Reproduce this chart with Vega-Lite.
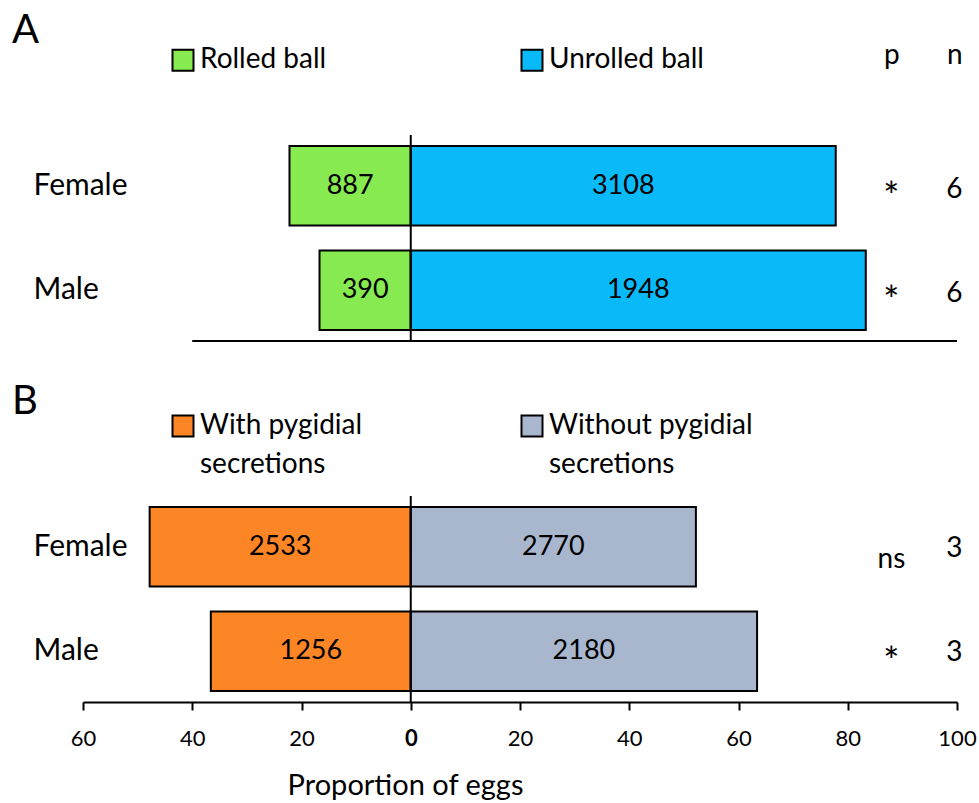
{
  "$schema": "https://vega.github.io/schema/vega-lite/v6.json",
  "padding": {"left": 12, "top": 11, "right": 10, "bottom": 0},
  "background": "white",
  "config": {
    "font": "Lato",
    "view": {"stroke": null},
    "title": {"fontWeight": "normal", "color": "black", "anchor": "start", "frame": "group", "font": "Lato"},
    "axis": {"labelColor": "black", "titleColor": "black", "labelFont": "Lato", "titleFont": "Lato", "grid": false},
    "legend": {"labelColor": "black", "labelFont": "Lato"},
    "text": {"font": "Lato", "color": "black"},
    "bar": {"stroke": "black", "strokeWidth": 2},
    "style": {"guide-label": {"lineHeight": 39}}
  },
  "bounds": "flush",
  "spacing": 155,
  "resolve": {"scale": {"color": "independent", "x": "independent", "y": "independent"}, "legend": {"color": "independent"}},
  "vconcat": [
    {
      "title": {"text": "A", "fontSize": 40, "dx": -71, "dy": 14},
      "width": 874,
      "height": 206,
      "data": {"values": [
        {"sex": "Female", "ball": "Rolled ball", "pct": -22.2, "eggs": 887},
        {"sex": "Female", "ball": "Unrolled ball", "pct": 77.8, "eggs": 3108},
        {"sex": "Male", "ball": "Rolled ball", "pct": -16.7, "eggs": 390},
        {"sex": "Male", "ball": "Unrolled ball", "pct": 83.3, "eggs": 1948}
      ]},
      "layer": [
        {
          "mark": {"type": "bar"},
          "encoding": {
            "x": {"field": "pct", "type": "quantitative", "title": null, "scale": {"domain": [-60, 100], "nice": false},
              "axis": {"orient": "top", "values": [88, 99.5], "labelExpr": "datum.value < 95 ? 'p' : 'n'", "domain": false, "ticks": false, "labelPadding": 66, "labelFontSize": 28, "title": null, "labelFlush": false, "labelOverlap": false}},
            "x2": {"datum": 0},
            "y": {"field": "sex", "type": "nominal", "sort": ["Female", "Male"], "title": null,
              "scale": {"paddingInner": 0.24, "paddingOuter": 0.105},
              "axis": {"domain": false, "ticks": false, "labelAlign": "left", "labelPadding": 50, "labelFontSize": 30, "labelBaseline": "middle"}},
            "color": {"field": "ball", "type": "nominal",
              "scale": {"domain": ["Rolled ball", "Unrolled ball"], "range": ["#86EA50", "#0ABAF8"]},
              "legend": {"orient": "none", "legendX": 86, "legendY": -89, "direction": "horizontal", "title": null,
                "symbolType": "square", "symbolSize": 441, "symbolStrokeColor": "black", "symbolStrokeWidth": 2,
                "labelFontSize": 28, "labelOffset": 3, "labelLimit": 400, "columnPadding": 190}}
          }
        },
        {
          "transform": [{"calculate": "datum.pct / 2", "as": "mid"}],
          "mark": {"type": "text", "fontSize": 27},
          "encoding": {
            "x": {"field": "mid", "type": "quantitative", "title": null},
            "y": {"field": "sex", "type": "nominal", "sort": ["Female", "Male"], "title": null},
            "text": {"field": "eggs", "type": "nominal"}
          }
        },
        {
          "data": {"values": [{}]},
          "mark": {"type": "rule", "strokeWidth": 2, "color": "black"},
          "encoding": {"x": {"datum": 0, "title": null}}
        },
        {
          "data": {"values": [{}]},
          "mark": {"type": "rule", "strokeWidth": 2, "color": "black", "yOffset": 11},
          "encoding": {"x": {"datum": -40, "title": null}, "x2": {"datum": 100},
            "y": {"datum": "Male", "type": "nominal", "bandPosition": 1, "title": null}}
        },
        {
          "data": {"values": [{"sex": "Female", "p": "*", "n": 6}, {"sex": "Male", "p": "*", "n": 6}]},
          "layer": [
            {
              "mark": {"type": "text", "fontSize": 38, "dy": 13},
              "encoding": {
                "x": {"datum": 88, "title": null},
                "y": {"field": "sex", "type": "nominal", "sort": ["Female", "Male"], "title": null},
                "text": {"field": "p", "type": "nominal"}
              }
            },
            {
              "mark": {"type": "text", "fontSize": 28, "dy": 4},
              "encoding": {
                "x": {"datum": 99.5, "title": null},
                "y": {"field": "sex", "type": "nominal", "sort": ["Female", "Male"], "title": null},
                "text": {"field": "n", "type": "nominal"}
              }
            }
          ]
        }
      ]
    },
    {
      "title": {"text": "B", "fontSize": 40, "dx": -71, "dy": 14},
      "width": 874,
      "height": 206,
      "data": {"values": [
        {"sex": "Female", "secretion": "With pygidial secretions", "pct": -47.8, "eggs": 2533},
        {"sex": "Female", "secretion": "Without pygidial secretions", "pct": 52.2, "eggs": 2770},
        {"sex": "Male", "secretion": "With pygidial secretions", "pct": -36.6, "eggs": 1256},
        {"sex": "Male", "secretion": "Without pygidial secretions", "pct": 63.4, "eggs": 2180}
      ]},
      "layer": [
        {
          "mark": {"type": "bar"},
          "encoding": {
            "x": {"field": "pct", "type": "quantitative", "title": "Proportion of eggs", "scale": {"domain": [-60, 100], "nice": false},
              "axis": {"orient": "bottom", "values": [-60, -40, -20, 0, 20, 40, 60, 80, 100], "labelExpr": "abs(datum.value)",
                "labelFontSize": 22, "labelFontWeight": {"condition": {"test": "datum.value == 0", "value": "bold"}, "value": "normal"},
                "tickSize": 8, "tickWidth": 2, "tickColor": "black", "domainColor": "black", "domainWidth": 2,
                "labelPadding": 18, "labelFlush": false, "labelOverlap": false,
                "title": "Proportion of eggs",
                "titleFontSize": 29, "titleFontWeight": "normal", "titleX": 322, "titlePadding": 22}},
            "x2": {"datum": 0},
            "y": {"field": "sex", "type": "nominal", "sort": ["Female", "Male"], "title": null,
              "scale": {"paddingInner": 0.24, "paddingOuter": 0.105},
              "axis": {"domain": false, "ticks": false, "labelAlign": "left", "labelPadding": 50, "labelFontSize": 30, "labelBaseline": "middle"}},
            "color": {"field": "secretion", "type": "nominal",
              "scale": {"domain": ["With pygidial secretions", "Without pygidial secretions"], "range": ["#FC8526", "#A8B7CE"]},
              "legend": {"orient": "none", "legendX": 86, "legendY": -84, "direction": "horizontal", "title": null,
                "labelExpr": "datum.label == 'With pygidial secretions' ? ['With pygidial', 'secretions'] : ['Without pygidial', 'secretions']",
                "symbolType": "square", "symbolSize": 441, "symbolStrokeColor": "black", "symbolStrokeWidth": 2,
                "labelFontSize": 28, "labelOffset": 3, "labelLimit": 400, "columnPadding": 154}}
          }
        },
        {
          "transform": [{"calculate": "datum.pct / 2", "as": "mid"}],
          "mark": {"type": "text", "fontSize": 27},
          "encoding": {
            "x": {"field": "mid", "type": "quantitative", "title": "Proportion of eggs"},
            "y": {"field": "sex", "type": "nominal", "sort": ["Female", "Male"], "title": null},
            "text": {"field": "eggs", "type": "nominal"}
          }
        },
        {
          "data": {"values": [{}]},
          "mark": {"type": "rule", "strokeWidth": 2, "color": "black"},
          "encoding": {"x": {"datum": 0, "title": "Proportion of eggs"}}
        },
        {
          "data": {"values": [{"sex": "Female", "p": "ns", "n": 3}, {"sex": "Male", "p": "*", "n": 3}]},
          "layer": [
            {
              "mark": {"type": "text", "dy": 13},
              "encoding": {
                "x": {"datum": 88, "title": "Proportion of eggs"},
                "y": {"field": "sex", "type": "nominal", "sort": ["Female", "Male"], "title": null},
                "text": {"field": "p", "type": "nominal"},
                "size": {"condition": {"test": "datum.p == '*'", "value": 38}, "value": 28}
              }
            },
            {
              "mark": {"type": "text", "fontSize": 28, "dy": 2},
              "encoding": {
                "x": {"datum": 99.5, "title": "Proportion of eggs"},
                "y": {"field": "sex", "type": "nominal", "sort": ["Female", "Male"], "title": null},
                "text": {"field": "n", "type": "nominal"}
              }
            }
          ]
        }
      ]
    }
  ]
}
